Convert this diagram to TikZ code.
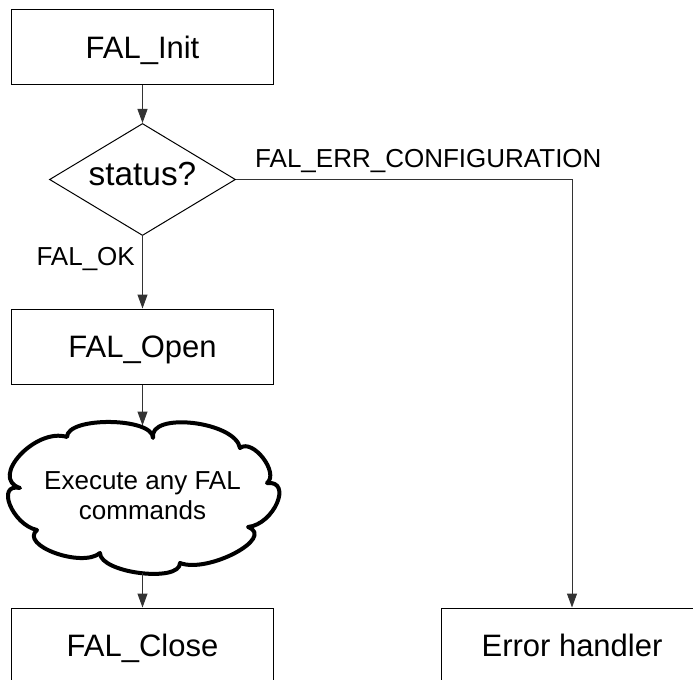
\documentclass[tikz,border=0pt]{standalone}
\usepackage{fontspec}
\setmainfont{Liberation Sans}
\usetikzlibrary{arrows.meta,shapes.geometric}
\begin{document}
\begin{tikzpicture}[x=1bp,y=-1bp,
  box/.style={draw=black,line width=1bp,minimum width=261bp,minimum height=75bp,inner sep=0pt,font=\fontsize{31.1}{37}\selectfont,text height=22bp,text depth=0bp},
  decision/.style={draw=black,line width=1bp,shape=diamond,aspect=1.66,minimum width=186bp,minimum height=112bp,inner sep=0pt,font=\fontsize{33.5}{38}\selectfont,text height=22bp,text depth=10bp},
  conn/.style={draw=black!80,line width=1bp,-{Triangle[length=14bp,width=10bp]}},
  lbl/.style={font=\fontsize{26.1}{30.1}\selectfont,inner sep=0pt},
  cloudline/.style={draw=black,fill=white,line width=4bp,line join=round}]
\useasboundingbox (0,0) rectangle (693,680);
% cloud
\draw[cloudline] (67,437)
  .. controls (67,416.3) and (153,417.3) .. (153,438)
  .. controls (148.3,411.3) and (235.3,421.3) .. (240,448)
  .. controls (252.7,438) and (279.7,473) .. (267,483)
  .. controls (293,480.3) and (274,524.3) .. (248,527)
  .. controls (276,537.7) and (208,573.7) .. (180,563)
  .. controls (180,583) and (100,573) .. (100,553)
  .. controls (82,568.3) and (19,545.3) .. (37,530)
  .. controls (12.3,524.7) and (-4.7,482.7) .. (20,488)
  .. controls (-11.3,478) and (35.7,427) .. (67,437) -- cycle;
\coordinate (cloudtop) at (142.5,425.5);
\coordinate (cloudbot) at (142.5,573);
\node[lbl,align=center] (exec) at (142.5,496) {Execute any FAL\\commands};
% nodes
\node[box] (init) at (142.5,47.5) {FAL\_Init};
\node[decision] (status) at (142.5,179.5) {status?};
\node[box] (open) at (142.5,346.5) {FAL\_Open};
\node[box] (close) at (142.5,645.5) {FAL\_Close};
\node[box] (err) at (572,645.5) {Error handler};
\node[lbl,anchor=base east] (ok) at (135,265) {FAL\_OK};
\node[lbl,anchor=base west] (errlbl) at (255,167) {FAL\_ERR\_CONFIGURATION};
% connectors
\draw[conn] (init) -- (status);
\draw[conn] (status) -- (open);
\draw[conn] (open) -- (cloudtop);
\draw[conn] (cloudbot) -- (close);
\draw[conn] (status.east) -| (err.north);
\end{tikzpicture}
\end{document}
